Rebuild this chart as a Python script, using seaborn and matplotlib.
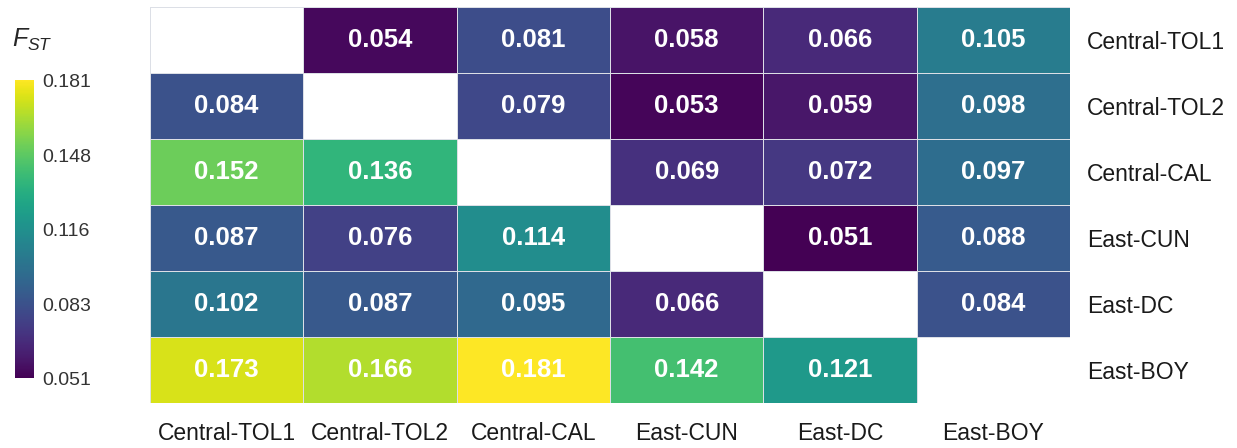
import numpy as np
import pandas as pd
import seaborn as sns
import matplotlib.pyplot as plt

# 群体名称
pops = ['Central-TOL1', 'Central-TOL2', 'Central-CAL', 'East-CUN', 'East-DC', 'East-BOY']

# 每行 FST 值 (对角线为空)
row_tol1 = [np.nan, 0.054, 0.081, 0.058, 0.066, 0.105]
row_tol2 = [0.084, np.nan, 0.079, 0.053, 0.059, 0.098]
row_cal = [0.152, 0.136, np.nan, 0.069, 0.072, 0.097]
row_cun = [0.087, 0.076, 0.114, np.nan, 0.051, 0.088]
row_dc = [0.102, 0.087, 0.095, 0.066, np.nan, 0.084]
row_boy = [0.173, 0.166, 0.181, 0.142, 0.121, np.nan]

cbar_ticks = [0.051, 0.083, 0.116, 0.148, 0.181]

sns.set_theme(style='white')
plt.rcParams['font.family'] = ['Liberation Sans', 'DejaVu Sans']
plt.rcParams['mathtext.fontset'] = 'custom'
plt.rcParams['mathtext.it'] = 'Liberation Sans:italic'
plt.rcParams['mathtext.rm'] = 'Liberation Sans'

df = pd.DataFrame([row_tol1, row_tol2, row_cal, row_cun, row_dc, row_boy],
                  index=pops, columns=pops)

fig = plt.figure(figsize=(12.37, 4.48), dpi=100)
ax = fig.add_axes([150 / 1237, 45 / 448, 920 / 1237, 396 / 448])
cax = fig.add_axes([15 / 1237, 70 / 448, 19 / 1237, 298 / 448])

sns.heatmap(df, ax=ax, cbar_ax=cax, cmap='viridis', vmin=0.051, vmax=0.181,
            annot=True, fmt='.3f', linewidths=0.5, linecolor='#dcdfe6',
            annot_kws={'size': 18.5, 'weight': 'bold', 'color': 'white'},
            cbar_kws={'ticks': cbar_ticks})

for s in ax.spines.values():
    s.set_visible(False)

ax.yaxis.tick_right()
ax.tick_params(axis='y', length=0, pad=12, labelsize=16.5, labelrotation=0, colors='#1a1a1a')
ax.tick_params(axis='x', length=0, pad=14, labelsize=16.5, labelrotation=0, colors='#1a1a1a')
ax.set_xlabel('')
ax.set_ylabel('')

cb = ax.collections[0].colorbar
cb.outline.set_visible(False)
cb.ax.set_yticklabels([f'{t:.3f}' for t in cbar_ticks])
cb.ax.tick_params(length=0, pad=6, labelsize=14, colors='#333333')

fig.text(12 / 1237, 1 - 40 / 448, r'$F_{ST}$', fontsize=18, va='center', ha='left')

plt.savefig('out.png', dpi=100)
